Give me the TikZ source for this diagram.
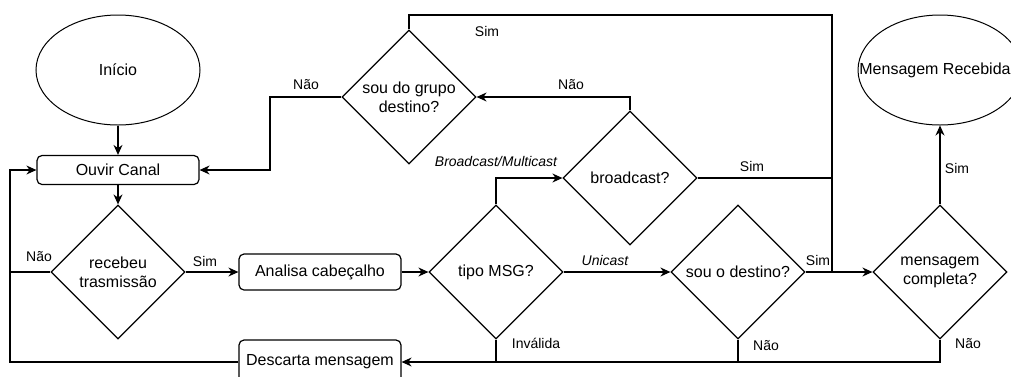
\documentclass[tikz,border=0pt]{standalone}
\usepackage{fontspec}
\setmainfont{Liberation Sans}
\usetikzlibrary{shapes.geometric,arrows.meta}
\begin{document}
\begin{tikzpicture}[x=1pt,y=-1pt,
  every node/.style={font=\fontsize{16}{19}\selectfont},
  dec/.style={diamond, draw, line width=1.2pt, minimum width=134pt, minimum height=134pt, inner sep=0pt, align=center, aspect=1},
  proc/.style={rectangle, rounded corners=5pt, draw, line width=1.2pt, minimum width=162pt, align=center, inner sep=0pt},
  term/.style={ellipse, draw, line width=1pt, minimum width=164pt, minimum height=110pt, inner sep=0pt},
  conn/.style={line width=1.2pt},
  arr/.style={conn, -{Stealth[length=10pt,width=9pt]}},
  lbl/.style={font=\fontsize{14}{16}\selectfont, inner sep=0pt},
  ilbl/.style={lbl, font=\fontsize{14}{16}\selectfont\itshape},
]
\useasboundingbox (0,0) rectangle (1011,376);

% nodes
\node[term] (start) at (118,70) {Início};
\node[proc, minimum height=29pt] (ouvir) at (118,170) {Ouvir Canal};
\node[dec] (receb) at (118,272) {recebeu\\trasmissão};
\node[proc, minimum height=36pt] (anal) at (320,272) {Analisa cabeçalho};
\node[proc, minimum height=44pt] (desc) at (320,362) {Descarta mensagem};
\node[dec] (tipo) at (496,272) {tipo MSG?};
\node[dec] (bcast) at (630,178) {broadcast?};
\node[dec] (grupo) at (409,97) {sou do grupo\\destino?};
\node[dec] (dest) at (738,272) {sou o destino?};
\node[dec] (comp) at (940,272) {mensagem\\completa?};
\node[term, label={[xshift=-5pt]center:Mensagem Recebida}] (recv) at (940,70) {};

% helper coordinates
\coordinate (loopB) at (10,362);
\coordinate (grpL) at (270,97);
\coordinate (topR) at (832,15);
\coordinate (junc) at (832,272);

% connectors
\draw[arr] (start) -- (ouvir);
\draw[arr] (ouvir) -- (receb);
\draw[arr] (receb.east) -- (anal.west);
\draw[arr] (anal.east) -- (tipo.west);
\draw[arr] (tipo.east) -- (dest.west);
\draw[arr] (dest.east) -- (comp.west);
\draw[arr] (comp.north) -- (recv.south);
\draw[arr] (tipo.north) |- (bcast.west);
\draw[arr] (bcast.north) |- (grupo.east);
\draw[arr] (grupo.west) -- (grpL) |- (ouvir.east);
\draw[conn] (grupo.north) |- (topR) -- (junc);
\draw[conn] (bcast.east) -- (bcast.east -| junc);
\draw[arr] (desc.west) -- (loopB) |- (ouvir.west);
\draw[conn] (receb.west) -- (receb.west -| loopB);
\draw[arr] (comp.south) |- (desc.east);
\draw[conn] (dest.south) -- (dest.south |- desc.east);
\draw[conn] (tipo.south) -- (tipo.south |- desc.east);

% labels
\node[lbl] (l1) at (39,257) {Não};
\node[lbl] (l2) at (205,261) {Sim};
\node[lbl] (l3) at (306,85) {Não};
\node[lbl] (l4) at (571,85) {Não};
\node[lbl] (l5) at (487,31) {Sim};
\node[lbl] (l6) at (752,166) {Sim};
\node[ilbl] (l7) at (605,260) {Unicast};
\node[ilbl] (l8) at (496,161) {Broadcast/Multicast};
\node[lbl] (l9) at (536,343) {Inválida};
\node[lbl] (l10) at (766,346) {Não};
\node[lbl] (l11) at (968,344) {Não};
\node[lbl] (l12) at (818,260) {Sim};
\node[lbl] (l13) at (957,168) {Sim};
\end{tikzpicture}
\end{document}
